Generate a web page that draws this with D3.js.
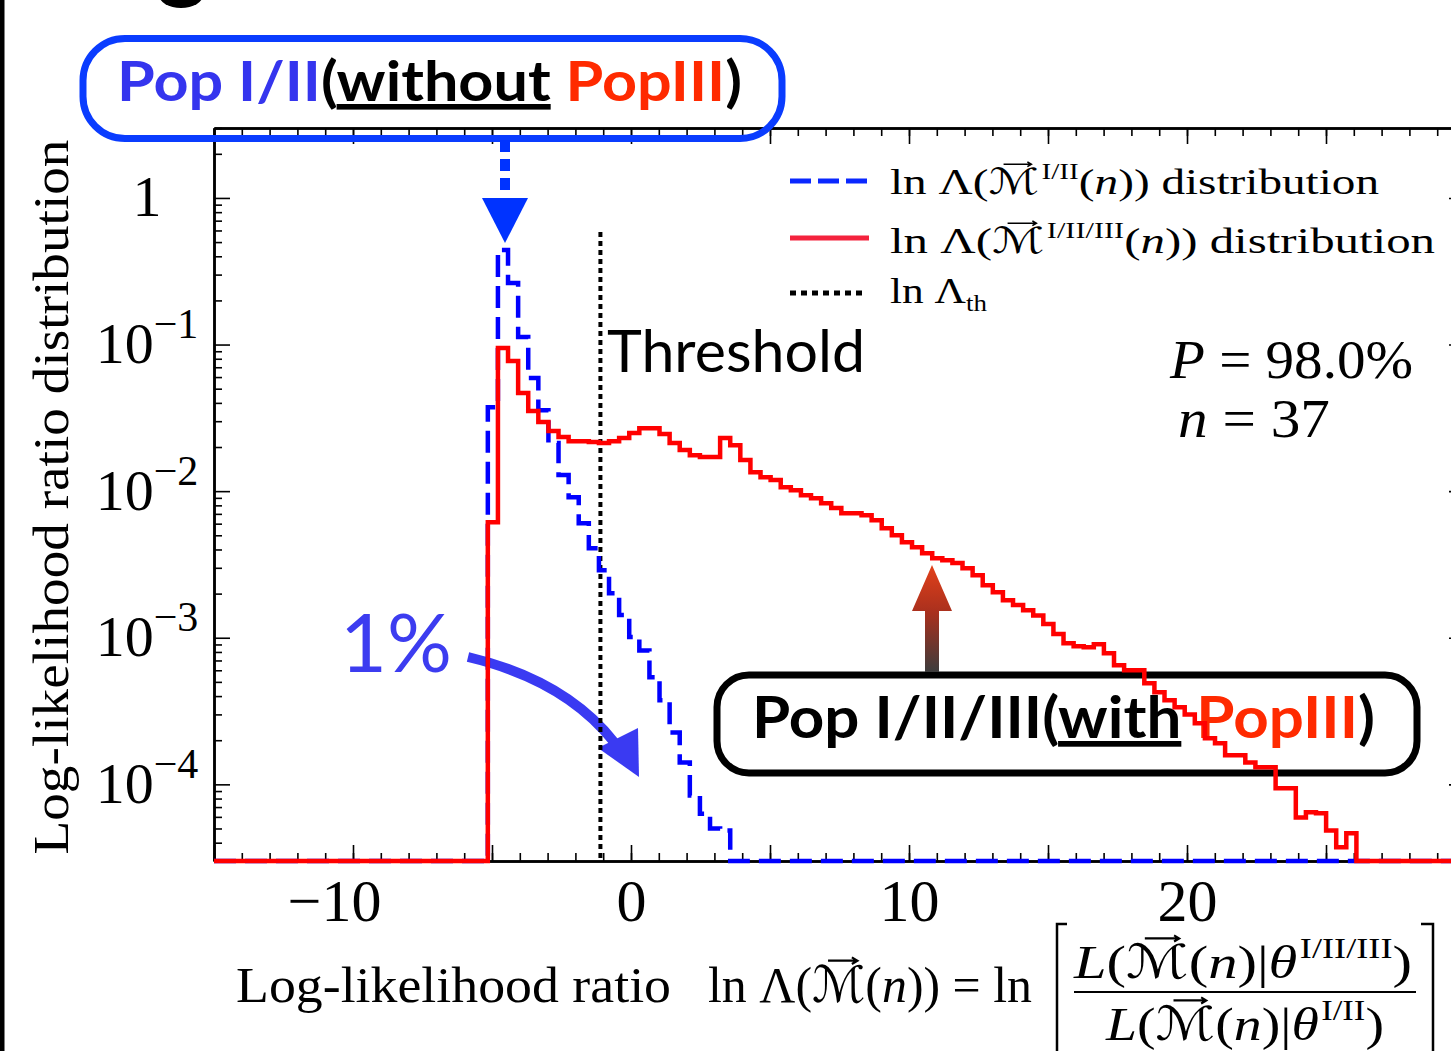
<!DOCTYPE html>
<html>
<head>
<meta charset="utf-8">
<script src="https://cdn.jsdelivr.net/npm/d3@7"></script>
<style>
  body { margin: 0; background: #fff; }
  svg { display: block; }
</style>
</head>
<body>
<script>
// histogram bins (shared by both curves)
const binStart = -5.15;
const binWidth = 0.3633;

// ln Lambda distribution, Pop I/II model (blue dashed)
const popI_II = [0.0374, 0.442, 0.263, 0.1125, 0.0591, 0.0357, 0.0213, 0.0129, 0.0091, 0.00605,
  0.00408, 0.00289, 0.00201, 0.00143, 0.00101, 0.00082, 0.000538, 0.000374, 0.000226, 0.000141,
  0.000084, 0.000063, 0.00005, 0.0000485];

// ln Lambda distribution, Pop I/II/III model (red solid)
const popI_II_III = [0.00614, 0.0946, 0.0772, 0.0467, 0.0352, 0.0296, 0.0257, 0.0234, 0.0219, 0.0219,
  0.0216, 0.0213, 0.0219, 0.0230, 0.0249, 0.0269, 0.0269, 0.0245, 0.0213, 0.0191,
  0.0176, 0.0171, 0.0171, 0.0230, 0.0206, 0.0163, 0.01348, 0.01246, 0.01189, 0.01065,
  0.01016, 0.00939, 0.00896, 0.00828, 0.00766, 0.00708, 0.00708, 0.00686, 0.00634, 0.00559,
  0.00501, 0.00449, 0.00415, 0.00377, 0.00349, 0.00338, 0.00323, 0.00298, 0.00267, 0.00228,
  0.00204, 0.00180, 0.00167, 0.00154, 0.00142, 0.00124, 0.00106, 0.000918, 0.000875, 0.000861,
  0.000903, 0.000784, 0.000649, 0.000600, 0.000600, 0.000489, 0.000425, 0.000375, 0.000335, 0.000300,
  0.000261, 0.000206, 0.000191, 0.000158, 0.000158, 0.000141, 0.000131, 0.000131, 0.0000939, 0.0000939,
  0.0000595, 0.0000644, 0.0000634, 0.0000485, 0.0000372, 0.0000463];

const thresholdX = -1.1;
const xTickLabels = [-10, 0, 10, 20];
const yTickLabels = [1, 1e-1, 1e-2, 1e-3, 1e-4];
const probText = "98.0%";
const nText = "37";

const W = 1451, H = 1051;
const serif = "'Liberation Serif', 'DejaVu Serif', serif";
const sans = "Lato, 'Noto Sans', sans-serif";
const scriptM = "'DejaVu Sans', 'DejaVu Serif', serif";

let svg = d3.select("body").append("svg")
    .attr("width", W)
    .attr("height", H);

let xScale = d3.scaleLinear().domain([-15, 30]).range([214, 1465]);
let yScale = d3.scaleLog().domain([3e-5, 3]).range([861, 128]).clamp(true);
const yBottom = yScale.range()[0], yTop = yScale.range()[1];

// helper: text made of tspans, with super/subscripts
function mathText(parent, x, y, size, parts, len, family) {
  let t = parent.append("text")
      .attr("x", x).attr("y", y)
      .attr("font-family", family || serif)
      .attr("font-size", size);
  let shift = 0;
  parts.forEach(p => {
    if (typeof p === "string") p = {t: p};
    let ts = t.append("tspan").text(p.t);
    let target = p.sup ? -0.42 * size : p.sub ? 0.22 * size : 0;
    if (target !== shift) { ts.attr("dy", target - shift); shift = target; }
    if (p.sup || p.sub) ts.attr("font-size", size * 0.62);
    if (p.it) ts.attr("font-style", "italic");
    if (p.fill) ts.attr("fill", p.fill);
    if (p.u) ts.attr("text-decoration", "underline");
    if (p.fam) ts.attr("font-family", p.fam);
    if (p.dx) ts.attr("dx", p.dx);
  });
  if (len) t.attr("textLength", len).attr("lengthAdjust", "spacingAndGlyphs");
  return t;
}

// script M with a small vector arrow on top
const M = {t: "ℳ", fam: scriptM};
function vecArrows(t, size) {
  let node = t.node();
  let s = node.textContent;
  let idx = s.indexOf("ℳ");
  while (idx >= 0) {
    let r = node.getExtentOfChar(idx);
    let yy = r.y + r.height * 0.08;
    let x1 = r.x + r.width * 0.3, x2 = r.x + r.width * 0.85;
    let hs = size * 0.11;
    svg.append("path")
        .attr("d", `M${x1},${yy}H${x2}M${x2 - hs},${yy - hs * 0.6}L${x2},${yy}L${x2 - hs},${yy + hs * 0.6}`)
        .attr("fill", "none").attr("stroke", "#000").attr("stroke-width", size * 0.045);
    idx = s.indexOf("ℳ", idx + 1);
  }
}

/******** frame bits cropped from the slide ********/
svg.append("rect").attr("x", 0).attr("y", 0).attr("width", 4.5).attr("height", H).attr("fill", "#000");
svg.append("ellipse").attr("cx", 181).attr("cy", -5).attr("rx", 22).attr("ry", 13).attr("fill", "#000");

/******** axes ********/
let xMinor = d3.range(-15, 31, 1), xMajor = d3.range(-15, 31, 5);
let yMinor = [];
[-5, -4, -3, -2, -1, 0].forEach(e => d3.range(2, 10).forEach(k => {
  let v = k * Math.pow(10, e);
  if (v >= 3e-5 && v <= 3) yMinor.push(v);
}));

function tickAxis(axis, tr, vals, size) {
  let g = svg.append("g").attr("transform", tr)
      .call(axis.tickValues(vals).tickSize(-size).tickSizeOuter(0).tickFormat(""));
  g.selectAll(".tick line").attr("stroke", "#000").attr("stroke-width", 1.6);
  g.select(".domain").attr("stroke", "#000").attr("stroke-width", 2.5);
  return g;
}
tickAxis(d3.axisBottom(xScale), `translate(0,${yBottom})`, xMinor, 8);
tickAxis(d3.axisBottom(xScale), `translate(0,${yBottom})`, xMajor, 16);
tickAxis(d3.axisTop(xScale), `translate(0,${yTop})`, xMinor, 8);
tickAxis(d3.axisTop(xScale), `translate(0,${yTop})`, xMajor, 16);
tickAxis(d3.axisLeft(yScale), `translate(${xScale(-15)},0)`, yMinor, 8);
tickAxis(d3.axisLeft(yScale), `translate(${xScale(-15)},0)`, yTickLabels, 16);
tickAxis(d3.axisRight(yScale), `translate(${xScale(30)},0)`, yMinor, 8);
tickAxis(d3.axisRight(yScale), `translate(${xScale(30)},0)`, yTickLabels, 16);

// x tick labels
let xl = svg.append("g").attr("transform", `translate(0,${yBottom})`)
    .call(d3.axisBottom(xScale).tickValues(xTickLabels).tickSize(0).tickPadding(17)
      .tickFormat(d => d < 0 ? "\u2212" + (-d) : String(d)));
xl.select(".domain").remove();
xl.selectAll(".tick text")
    .attr("font-family", serif).attr("font-size", 60).attr("fill", "#000")
    .attr("dx", d => d < 0 ? -19 : 0);

// y tick labels: 1, 10^-1 ...
let yl = svg.append("g").attr("transform", `translate(${xScale(-15)},0)`)
    .call(d3.axisLeft(yScale).tickValues(yTickLabels).tickSize(0).tickFormat(""));
yl.select(".domain").remove();
yl.selectAll(".tick").each(function(d) {
  let e = Math.round(Math.log10(d));
  let t = d3.select(this).append("text")
      .attr("x", -67).attr("y", 18)
      .attr("text-anchor", "middle")
      .attr("font-family", serif).attr("font-size", 58).attr("fill", "#000");
  if (e === 0) { t.text("1"); return; }
  t.append("tspan").text("10");
  t.append("tspan").attr("font-size", 42).attr("dy", -25).text("\u2212" + (-e));
});

// axis titles
let yt = mathText(svg.append("g").attr("transform", "translate(68,497) rotate(-90)"),
    0, 0, 50, ["Log-likelihood ratio distribution"], 715);
yt.attr("text-anchor", "middle");

mathText(svg, 236, 1002, 50, ["Log-likelihood ratio"], 435);
let xm = mathText(svg, 708, 1002, 50, ["ln Λ(", M, "(", {t: "n", it: true}, ")) = ln"], 324);
vecArrows(xm, 50);
svg.append("path")
    .attr("d", "M1067,924H1057V1060M1421,924H1433V1060")
    .attr("fill", "none").attr("stroke", "#000").attr("stroke-width", 2.5);
let num = mathText(svg, 1074, 978, 47, [{t: "L", it: true}, "(", M, "(", {t: "n", it: true}, ")|",
    {t: "θ", it: true}, {t: "I/II/III", sup: true, dx: 2}, ")"], 338);
vecArrows(num, 47);
svg.append("line").attr("x1", 1074).attr("x2", 1416).attr("y1", 992).attr("y2", 992)
    .attr("stroke", "#000").attr("stroke-width", 2);
let den = mathText(svg, 1106, 1040, 47, [{t: "L", it: true}, "(", M, "(", {t: "n", it: true}, ")|",
    {t: "θ", it: true}, {t: "I/II", sup: true, dx: 2}, ")"], 278);
vecArrows(den, 47);

/******** annotations ********/
let defs = svg.append("defs");
let grad = defs.append("linearGradient").attr("id", "upGrad")
    .attr("gradientUnits", "userSpaceOnUse")
    .attr("x1", 0).attr("y1", 565).attr("x2", 0).attr("y2", 672);
grad.append("stop").attr("offset", 0).attr("stop-color", "#e3401a");
grad.append("stop").attr("offset", 0.45).attr("stop-color", "#a8301e");
grad.append("stop").attr("offset", 1).attr("stop-color", "#3c3c3c");

// blue box (without PopIII)
svg.append("rect").attr("x", 83).attr("y", 38.5).attr("width", 699).attr("height", 100)
    .attr("rx", 42).attr("fill", "none").attr("stroke", "#0a3cff").attr("stroke-width", 7);
mathText(svg, 117, 101, 56, [
  {t: "Pop I/II", fill: "#3535ee"}, "(", {t: "without", u: true}, " ",
  {t: "PopIII", fill: "#ff2a00"}, ")"], 625, sans).attr("font-weight", "bold");

// dotted arrow down to the peak
svg.append("line").attr("x1", 505).attr("x2", 505).attr("y1", 140).attr("y2", 197)
    .attr("stroke", "#0033ff").attr("stroke-width", 10).attr("stroke-dasharray", "12,7");
svg.append("path").attr("d", "M482,198L528,198L505,243Z").attr("fill", "#0033ff");

// black box (with PopIII)
svg.append("rect").attr("x", 717).attr("y", 675).attr("width", 700).attr("height", 98)
    .attr("rx", 32).attr("fill", "none").attr("stroke", "#000").attr("stroke-width", 7);
mathText(svg, 752, 738, 57, [
  "Pop I/II/III(", {t: "with", u: true}, " ",
  {t: "PopIII", fill: "#ff2a00"}, ")"], 623, sans).attr("font-weight", "bold");

// gradient arrow up
svg.append("path").attr("d", "M925,672V611H912L932,565L952,611H939V672Z").attr("fill", "url(#upGrad)");

// 1% arrow
svg.append("text").attr("x", 340).attr("y", 672)
    .attr("font-family", sans).attr("font-size", 82).attr("fill", "#3c3cf0")
    .attr("textLength", 112).attr("lengthAdjust", "spacingAndGlyphs")
    .text("1%");
svg.append("path").attr("d", "M468,657Q565,680 614,742")
    .attr("fill", "none").attr("stroke", "#3a3af2").attr("stroke-width", 10);
svg.append("path").attr("d", "M598,748L638,728L639,777Z").attr("fill", "#3a3af2");

svg.append("text").attr("x", 607).attr("y", 372)
    .attr("font-family", sans).attr("font-size", 58).attr("fill", "#000")
    .attr("textLength", 258).attr("lengthAdjust", "spacingAndGlyphs")
    .text("Threshold");

// P and n
mathText(svg, 1170, 378, 54, [{t: "P", it: true}, " = " + probText], 243);
mathText(svg, 1178, 437, 54, [{t: "n", it: true}, " = " + nText], 152);

/******** legend ********/
let lg = svg.append("g");
lg.append("line").attr("x1", 790).attr("x2", 868).attr("y1", 181).attr("y2", 181)
    .attr("stroke", "#0a28ff").attr("stroke-width", 5).attr("stroke-dasharray", "21,7");
lg.append("line").attr("x1", 790).attr("x2", 869).attr("y1", 238).attr("y2", 238)
    .attr("stroke", "#f4233d").attr("stroke-width", 5);
lg.append("line").attr("x1", 790).attr("x2", 867).attr("y1", 293).attr("y2", 293)
    .attr("stroke", "#000").attr("stroke-width", 5).attr("stroke-dasharray", "6,5");
let l1 = mathText(lg, 890, 194, 36, ["ln Λ(", M, {t: "I/II", sup: true, dx: 2}, "(",
    {t: "n", it: true}, ")) distribution"], 489);
vecArrows(l1, 36);
let l2 = mathText(lg, 890, 253, 36, ["ln Λ(", M, {t: "I/II/III", sup: true, dx: 2}, "(",
    {t: "n", it: true}, ")) distribution"], 545);
vecArrows(l2, 36);
mathText(lg, 890, 303, 36, ["ln Λ", {t: "th", sub: true}], 97);

/******** curves ********/
svg.append("line")
    .attr("x1", xScale(thresholdX)).attr("x2", xScale(thresholdX))
    .attr("y1", 232).attr("y2", yBottom)
    .attr("stroke", "#000").attr("stroke-width", 4).attr("stroke-dasharray", "5,4");

function stepPoints(vals) {
  let pts = [[xScale.domain()[0], 0]];
  vals.forEach((v, i) => pts.push([binStart + i * binWidth, v]));
  pts.push([binStart + vals.length * binWidth, 0]);
  pts.push([xScale.domain()[1], 0]);
  return pts;
}
let line = d3.line()
    .x(d => xScale(d[0]))
    .y(d => d[1] > 0 ? yScale(d[1]) : yBottom)
    .curve(d3.curveStepAfter);

svg.append("path").datum(stepPoints(popI_II))
    .attr("d", line).attr("fill", "none")
    .attr("stroke", "#0000ff").attr("stroke-width", 4.5).attr("stroke-dasharray", "22,9");
svg.append("path").datum(stepPoints(popI_II_III))
    .attr("d", line).attr("fill", "none")
    .attr("stroke", "#ff0000").attr("stroke-width", 4.5);
</script>
</body>
</html>
